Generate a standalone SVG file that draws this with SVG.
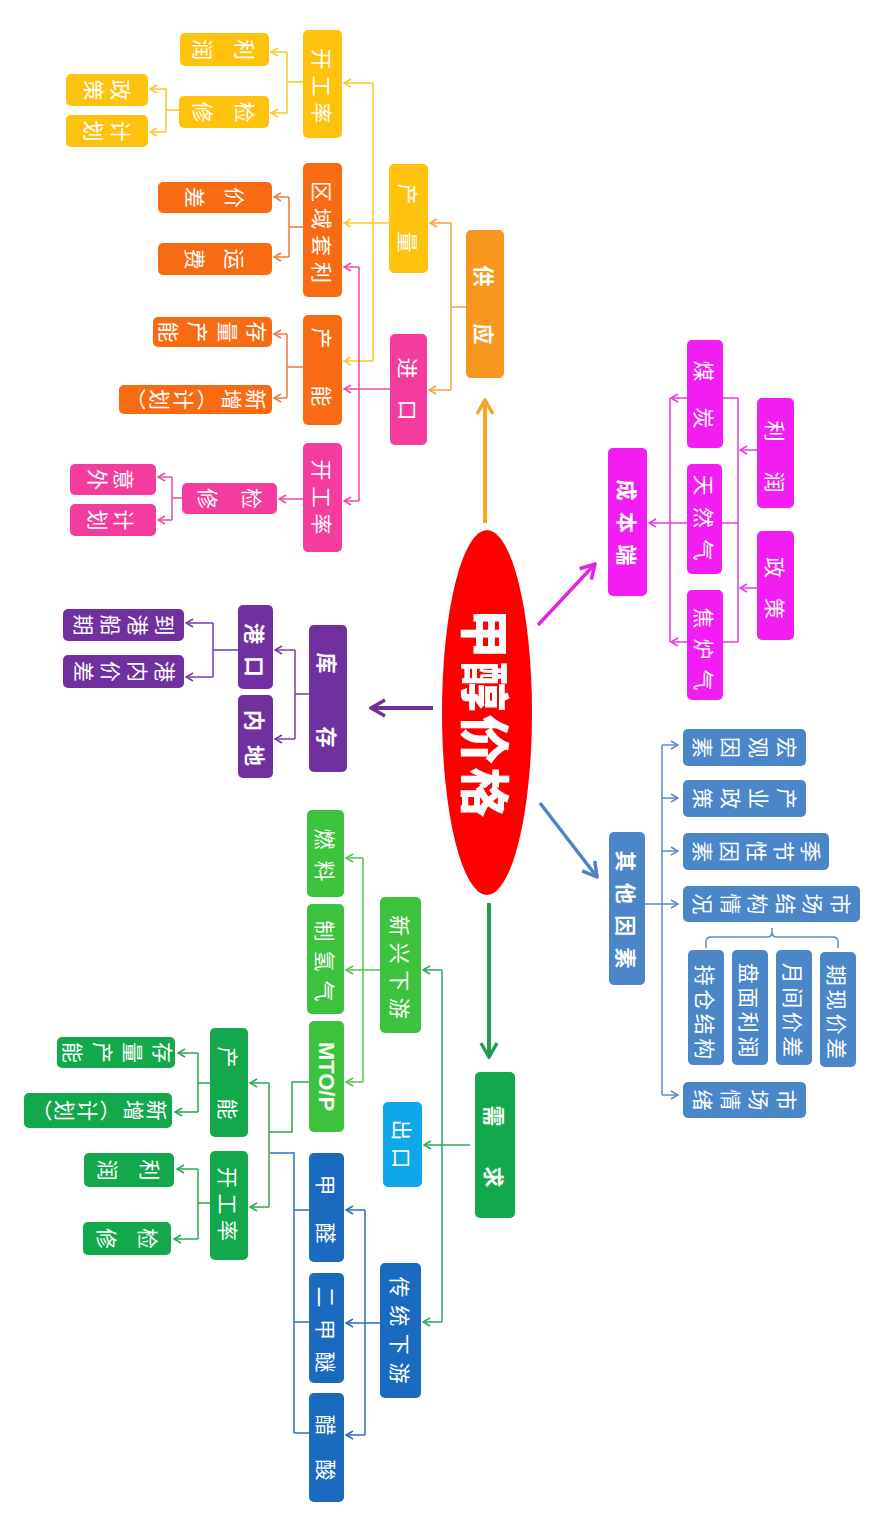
<svg xmlns="http://www.w3.org/2000/svg" width="882" height="1530" viewBox="0 0 882 1530">
<defs>
<style>
.t{font-family:"Noto Sans CJK SC","Noto Sans CJK JP",sans-serif;font-size:21px;fill:#fff;dominant-baseline:central;text-anchor:start}
.v{writing-mode:vertical-rl}
.b{font-weight:bold}
.c{fill:none;stroke-width:1.5}
.k{fill:none;stroke-width:1.6}
.big{fill:none;stroke-width:3.5}
.cy{stroke:#F8C82A}.ca{stroke:#F4A33A}.co{stroke:#EE7A3C}.cp{stroke:#EC4AA3}.cu{stroke:#7A3BA8}.cm{stroke:#E23CE2}.cb{stroke:#5B8BC9}.cgl{stroke:#55C055}.cg{stroke:#2BA85A}.cgd{stroke:#2EA652}.cdb{stroke:#2F6DBA}
</style>
<marker id="ay" viewBox="0 0 10 10" refX="9" refY="5" markerWidth="10" markerHeight="10" markerUnits="userSpaceOnUse" orient="auto"><path class="k" d="M2,1 L9,5 L2,9" stroke="#F8C82A"/></marker>
<marker id="aa" viewBox="0 0 10 10" refX="9" refY="5" markerWidth="10" markerHeight="10" markerUnits="userSpaceOnUse" orient="auto"><path class="k" d="M2,1 L9,5 L2,9" stroke="#F4A33A"/></marker>
<marker id="ao" viewBox="0 0 10 10" refX="9" refY="5" markerWidth="10" markerHeight="10" markerUnits="userSpaceOnUse" orient="auto"><path class="k" d="M2,1 L9,5 L2,9" stroke="#EE7A3C"/></marker>
<marker id="ap" viewBox="0 0 10 10" refX="9" refY="5" markerWidth="10" markerHeight="10" markerUnits="userSpaceOnUse" orient="auto"><path class="k" d="M2,1 L9,5 L2,9" stroke="#EC4AA3"/></marker>
<marker id="au" viewBox="0 0 10 10" refX="9" refY="5" markerWidth="10" markerHeight="10" markerUnits="userSpaceOnUse" orient="auto"><path class="k" d="M2,1 L9,5 L2,9" stroke="#7A3BA8"/></marker>
<marker id="am" viewBox="0 0 10 10" refX="9" refY="5" markerWidth="10" markerHeight="10" markerUnits="userSpaceOnUse" orient="auto"><path class="k" d="M2,1 L9,5 L2,9" stroke="#E23CE2"/></marker>
<marker id="ab" viewBox="0 0 10 10" refX="9" refY="5" markerWidth="10" markerHeight="10" markerUnits="userSpaceOnUse" orient="auto"><path class="k" d="M2,1 L9,5 L2,9" stroke="#5B8BC9"/></marker>
<marker id="agl" viewBox="0 0 10 10" refX="9" refY="5" markerWidth="10" markerHeight="10" markerUnits="userSpaceOnUse" orient="auto"><path class="k" d="M2,1 L9,5 L2,9" stroke="#55C055"/></marker>
<marker id="ag" viewBox="0 0 10 10" refX="9" refY="5" markerWidth="10" markerHeight="10" markerUnits="userSpaceOnUse" orient="auto"><path class="k" d="M2,1 L9,5 L2,9" stroke="#2BA85A"/></marker>
<marker id="agd" viewBox="0 0 10 10" refX="9" refY="5" markerWidth="10" markerHeight="10" markerUnits="userSpaceOnUse" orient="auto"><path class="k" d="M2,1 L9,5 L2,9" stroke="#2EA652"/></marker>
<marker id="adb" viewBox="0 0 10 10" refX="9" refY="5" markerWidth="10" markerHeight="10" markerUnits="userSpaceOnUse" orient="auto"><path class="k" d="M2,1 L9,5 L2,9" stroke="#2F6DBA"/></marker>
<marker id="Ba" viewBox="0 0 20 20" refX="18" refY="10" markerWidth="20" markerHeight="20" markerUnits="userSpaceOnUse" orient="auto"><path class="big" d="M4,2 L18,10 L4,18" stroke="#F5A52A"/></marker>
<marker id="Bu" viewBox="0 0 20 20" refX="18" refY="10" markerWidth="20" markerHeight="20" markerUnits="userSpaceOnUse" orient="auto"><path class="big" d="M4,2 L18,10 L4,18" stroke="#6E2E9C"/></marker>
<marker id="Bm" viewBox="0 0 20 20" refX="18" refY="10" markerWidth="20" markerHeight="20" markerUnits="userSpaceOnUse" orient="auto"><path class="big" d="M4,2 L18,10 L4,18" stroke="#E424E4"/></marker>
<marker id="Bb" viewBox="0 0 20 20" refX="18" refY="10" markerWidth="20" markerHeight="20" markerUnits="userSpaceOnUse" orient="auto"><path class="big" d="M4,2 L18,10 L4,18" stroke="#5183C4"/></marker>
<marker id="Bg" viewBox="0 0 20 20" refX="18" refY="10" markerWidth="20" markerHeight="20" markerUnits="userSpaceOnUse" orient="auto"><path class="big" d="M4,2 L18,10 L4,18" stroke="#1E9E4E"/></marker>
</defs>
<rect width="882" height="1530" fill="#fff"/>

<g id="connectors">
<!-- main arrows -->
<path d="M485,523 V400" stroke="#F5A52A" stroke-width="4" fill="none" marker-end="url(#Ba)"/>
<path d="M433,708 H371" stroke="#6E2E9C" stroke-width="4" fill="none" marker-end="url(#Bu)"/>
<path d="M538,625 L595,564" stroke="#E424E4" stroke-width="3.5" fill="none" marker-end="url(#Bm)"/>
<path d="M540,803 L597,877" stroke="#5183C4" stroke-width="3.5" fill="none" marker-end="url(#Bb)"/>
<path d="M489,903 V1057" stroke="#1E9E4E" stroke-width="4" fill="none" marker-end="url(#Bg)"/>
<!-- supply -->
<path class="c ca" d="M466,307 H451 M451,223 V390"/>
<path class="c ca" d="M451,223 H430" marker-end="url(#aa)"/>
<path class="c ca" d="M451,390 H429" marker-end="url(#aa)"/>
<path class="c cy" d="M389,223 H373 M373,83 V361"/>
<path class="c cy" d="M373,83 H344" marker-end="url(#ay)"/>
<path class="c cy" d="M373,223 H344" marker-end="url(#ay)"/>
<path class="c cy" d="M373,361 H344" marker-end="url(#ay)"/>
<path class="c cp" d="M390,389 H359 M359,267 V501"/>
<path class="c cp" d="M359,267 H344" marker-end="url(#ap)"/>
<path class="c cp" d="M359,389 H344" marker-end="url(#ap)"/>
<path class="c cp" d="M359,501 H344" marker-end="url(#ap)"/>
<path class="c cy" d="M303,82 H287 M287,52 V113"/>
<path class="c cy" d="M287,52 H271" marker-end="url(#ay)"/>
<path class="c cy" d="M287,113 H271" marker-end="url(#ay)"/>
<path class="c cy" d="M179,110 H166 M166,89 V132"/>
<path class="c cy" d="M166,89 H150" marker-end="url(#ay)"/>
<path class="c cy" d="M166,132 H150" marker-end="url(#ay)"/>
<path class="c co" d="M303,227 H289 M289,197 V257"/>
<path class="c co" d="M289,197 H274" marker-end="url(#ao)"/>
<path class="c co" d="M289,257 H274" marker-end="url(#ao)"/>
<path class="c co" d="M303,367 H287 M287,334 V398"/>
<path class="c co" d="M287,334 H274" marker-end="url(#ao)"/>
<path class="c co" d="M287,398 H274" marker-end="url(#ao)"/>
<path class="c cp" d="M303,499 H279" marker-end="url(#ap)"/>
<path class="c cp" d="M182,498 H172 M172,477 V520"/>
<path class="c cp" d="M172,477 H158" marker-end="url(#ap)"/>
<path class="c cp" d="M172,520 H158" marker-end="url(#ap)"/>
<!-- inventory -->
<path class="c cu" d="M309,694 H295 M295,650 V739"/>
<path class="c cu" d="M295,650 H275" marker-end="url(#au)"/>
<path class="c cu" d="M295,739 H275" marker-end="url(#au)"/>
<path class="c cu" d="M238,650 H213 M213,623 V677"/>
<path class="c cu" d="M213,623 H186" marker-end="url(#au)"/>
<path class="c cu" d="M213,677 H186" marker-end="url(#au)"/>
<!-- cost -->
<path class="c cm" d="M738,398 V642 M670,398 V642"/>
<path class="c cm" d="M738,398 H671" marker-end="url(#am)"/>
<path class="c cm" d="M738,642 H671" marker-end="url(#am)"/>
<path class="c cm" d="M738,523 H649" marker-end="url(#am)"/>
<path class="c cm" d="M757,450 H740" marker-end="url(#am)"/>
<path class="c cm" d="M757,588 H740" marker-end="url(#am)"/>
<!-- other factors -->
<path class="c cb" d="M645,904 H662 M662,745 V1095"/>
<path class="c cb" d="M662,745 H678" marker-end="url(#ab)"/>
<path class="c cb" d="M662,798 H678" marker-end="url(#ab)"/>
<path class="c cb" d="M662,851 H678" marker-end="url(#ab)"/>
<path class="c cb" d="M662,904 H678" marker-end="url(#ab)"/>
<path class="c cb" d="M662,1095 H678" marker-end="url(#ab)"/>
<path class="c cb" d="M706,948 V942 Q706,937 711,937 H767 Q772,937 772,932 V928 M772,932 Q772,937 777,937 H833 Q838,937 838,942 V948"/>
<!-- demand -->
<path class="c cgl" d="M380,970 H363 M363,858 V1082"/>
<path class="c cgl" d="M363,858 H346" marker-end="url(#agl)"/>
<path class="c cgl" d="M363,970 H346" marker-end="url(#agl)"/>
<path class="c cgl" d="M363,1082 H346" marker-end="url(#agl)"/>
<path class="c cg" d="M442,970 V1322"/>
<path class="c cg" d="M470,1145 H424" marker-end="url(#ag)"/>
<path class="c cg" d="M442,970 H423" marker-end="url(#ag)"/>
<path class="c cg" d="M442,1322 H423" marker-end="url(#ag)"/>
<path class="c cgd" d="M309,1082 H292 V1132 H269 M269,1083 V1207"/>
<path class="c cgd" d="M269,1083 H250" marker-end="url(#agd)"/>
<path class="c cgd" d="M269,1207 H250" marker-end="url(#agd)"/>
<path class="c cdb" d="M270,1153 H294 V1433 M294,1210 H309 M294,1322 H309 M294,1433 H309"/>
<path class="c cdb" d="M380,1323 H365 M365,1210 V1435"/>
<path class="c cdb" d="M365,1210 H346" marker-end="url(#adb)"/>
<path class="c cdb" d="M365,1323 H346" marker-end="url(#adb)"/>
<path class="c cdb" d="M365,1435 H346" marker-end="url(#adb)"/>
<path class="c cgd" d="M210,1083 H198 M198,1053 V1112"/>
<path class="c cgd" d="M198,1053 H178" marker-end="url(#agd)"/>
<path class="c cgd" d="M198,1112 H175" marker-end="url(#agd)"/>
<path class="c cgd" d="M210,1203 H198 M198,1169 V1239"/>
<path class="c cgd" d="M198,1169 H177" marker-end="url(#agd)"/>
<path class="c cgd" d="M198,1239 H174" marker-end="url(#agd)"/>
</g>

<g id="center"><ellipse cx="487" cy="712.5" rx="45" ry="182.5" fill="#FF0000"/><text class="t" style="font-size:50px;font-weight:900" transform="translate(488 713) rotate(90)" x="-104.5" letter-spacing="3">甲醇价格</text></g>

<!-- supply -->
<g id="gongying"><rect x="466" y="230" width="38" height="148" rx="5" fill="#F8971D"/><text class="t b" transform="translate(485 305) rotate(90)" x="-39.5" letter-spacing="37">供应</text></g>
<g id="chanliang"><rect x="389" y="164" width="39" height="109" rx="5" fill="#FEC20F"/><text class="t" transform="translate(408.5 218) rotate(90)" x="-34.5" letter-spacing="27">产量</text></g>
<g id="jinkou"><rect x="390" y="334" width="37" height="111" rx="5" fill="#F33C9D"/><text class="t" transform="translate(408.5 389) rotate(90)" x="-31.5" letter-spacing="21">进口</text></g>
<g id="kgl-y"><rect x="303" y="30" width="39" height="108" rx="5" fill="#FEC20F"/><text class="t" transform="translate(322.5 86) rotate(90)" x="-37.5" letter-spacing="6">开工率</text></g>
<g id="qytl"><rect x="303" y="163" width="39" height="134" rx="5" fill="#F96B12"/><text class="t" transform="translate(322.5 232) rotate(90)" x="-51" letter-spacing="6">区域套利</text></g>
<g id="channeng-o"><rect x="303" y="315" width="39" height="110" rx="5" fill="#F96B12"/><text class="t" transform="translate(322.5 367) rotate(90)" x="-39.5" letter-spacing="37">产能</text></g>
<g id="kgl-p"><rect x="303" y="443" width="39" height="109" rx="5" fill="#F33C9D"/><text class="t" transform="translate(322.5 497) rotate(90)" x="-37.5" letter-spacing="6">开工率</text></g>
<g id="lirun-y"><rect x="180" y="33" width="89" height="33" rx="5" fill="#FEC20F"/><text class="t v" transform="translate(224 49.5) rotate(90)" y="-31.5" letter-spacing="21">利润</text></g>
<g id="jianxiu-y"><rect x="179" y="96" width="90" height="32" rx="5" fill="#FEC20F"/><text class="t v" transform="translate(224 112) rotate(90)" y="-31.5" letter-spacing="21">检修</text></g>
<g id="zhengce-y"><rect x="66" y="74" width="82" height="32" rx="5" fill="#FEC20F"/><text class="t v" transform="translate(107 90) rotate(90)" y="-24" letter-spacing="6">政策</text></g>
<g id="jihua-y"><rect x="66" y="115" width="82" height="32" rx="5" fill="#FEC20F"/><text class="t v" transform="translate(107 131) rotate(90)" y="-24" letter-spacing="6">计划</text></g>
<g id="jiacha-o"><rect x="158" y="182" width="114" height="31" rx="5" fill="#F96B12"/><text class="t v" transform="translate(215 197.5) rotate(90)" y="-30.5" letter-spacing="19">价差</text></g>
<g id="yunfei"><rect x="158" y="243" width="114" height="32" rx="5" fill="#F96B12"/><text class="t v" transform="translate(215 259) rotate(90)" y="-30.5" letter-spacing="19">运费</text></g>
<g id="clcn-o"><rect x="153" y="317" width="119" height="30" rx="5" fill="#F96B12"/><text class="t v" transform="translate(213 332) rotate(90)" y="-54.75" letter-spacing="8.5">存量产能</text></g>
<g id="xz-o"><rect x="119" y="385" width="153" height="29" rx="5" fill="#F96B12"/><text class="t v" transform="translate(196 399.5) rotate(90)" y="-70.5" letter-spacing="3">新增（计划）</text></g>
<g id="jianxiu-p"><rect x="182" y="483" width="95" height="31" rx="5" fill="#F33C9D"/><text class="t v" transform="translate(230 498.5) rotate(90)" y="-32.5" letter-spacing="23">检修</text></g>
<g id="yiwai"><rect x="70" y="464" width="86" height="31" rx="5" fill="#F33C9D"/><text class="t v" transform="translate(111 479.5) rotate(90)" y="-23.5" letter-spacing="5">意外</text></g>
<g id="jihua-p"><rect x="70" y="504" width="86" height="32" rx="5" fill="#F33C9D"/><text class="t v" transform="translate(111 520) rotate(90)" y="-23.5" letter-spacing="5">计划</text></g>

<!-- inventory -->
<g id="kucun"><rect x="309" y="625" width="38" height="147" rx="5" fill="#7030A0"/><text class="t b" transform="translate(328 700) rotate(90)" x="-47.5" letter-spacing="53">库存</text></g>
<g id="gangkou"><rect x="238" y="605" width="35" height="84" rx="5" fill="#7030A0"/><text class="t b" transform="translate(255.5 650) rotate(90)" x="-27" letter-spacing="12">港口</text></g>
<g id="neidi"><rect x="238" y="695" width="35" height="83" rx="5" fill="#7030A0"/><text class="t b" transform="translate(255.5 738) rotate(90)" x="-28" letter-spacing="14">内地</text></g>
<g id="dgcq"><rect x="63" y="609" width="121" height="32" rx="5" fill="#7030A0"/><text class="t v" transform="translate(124 625) rotate(90)" y="-51" letter-spacing="6">到港船期</text></g>
<g id="gnjc"><rect x="63" y="655" width="121" height="33" rx="5" fill="#7030A0"/><text class="t v" transform="translate(124 671.5) rotate(90)" y="-51" letter-spacing="6">港内价差</text></g>

<!-- cost -->
<g id="chengben"><rect x="608" y="448" width="39" height="148" rx="5" fill="#F21DF2"/><text class="t b" transform="translate(627.5 522.5) rotate(90)" x="-43" letter-spacing="11.5">成本端</text></g>
<g id="meitan"><rect x="687" y="340" width="36" height="108" rx="5" fill="#F21DF2"/><text class="t" transform="translate(705 394.5) rotate(90)" x="-34" letter-spacing="26">煤炭</text></g>
<g id="trq"><rect x="687" y="464" width="35" height="110" rx="5" fill="#F21DF2"/><text class="t" transform="translate(704.5 517.5) rotate(90)" x="-43" letter-spacing="11.5">天然气</text></g>
<g id="jlq"><rect x="687" y="590" width="36" height="110" rx="5" fill="#F21DF2"/><text class="t" transform="translate(705 649) rotate(90)" x="-41.5" letter-spacing="10">焦炉气</text></g>
<g id="lirun-m"><rect x="757" y="398" width="37" height="110" rx="5" fill="#F21DF2"/><text class="t" transform="translate(775.5 456.5) rotate(90)" x="-36" letter-spacing="30">利润</text></g>
<g id="zhengce-m"><rect x="757" y="531" width="37" height="109" rx="5" fill="#F21DF2"/><text class="t" transform="translate(775.5 588) rotate(90)" x="-31" letter-spacing="20">政策</text></g>

<!-- other factors -->
<g id="qita"><rect x="609" y="832" width="36" height="153" rx="5" fill="#4A86C8"/><text class="t b" transform="translate(627 909.5) rotate(90)" x="-58.95" letter-spacing="11.3">其他因素</text></g>
<g id="hongguan"><rect x="683" y="729" width="123" height="37" rx="5" fill="#4A86C8"/><text class="t v" transform="translate(745 747.5) rotate(90)" y="-52.5" letter-spacing="7">宏观因素</text></g>
<g id="chanye"><rect x="683" y="780" width="123" height="37" rx="5" fill="#4A86C8"/><text class="t v" transform="translate(745 798.5) rotate(90)" y="-52.5" letter-spacing="7">产业政策</text></g>
<g id="jijie"><rect x="683" y="833" width="146" height="37" rx="5" fill="#4A86C8"/><text class="t v" transform="translate(757 851.5) rotate(90)" y="-64.5" letter-spacing="6">季节性因素</text></g>
<g id="scjg"><rect x="683" y="886" width="177" height="36" rx="5" fill="#4A86C8"/><text class="t v" transform="translate(772 904) rotate(90)" y="-79.5" letter-spacing="6.6">市场结构情况</text></g>
<g id="ccjg"><rect x="688" y="950" width="36" height="115" rx="5" fill="#4A86C8"/><text class="t" transform="translate(706 1012) rotate(90)" x="-47.25" letter-spacing="3.5">持仓结构</text></g>
<g id="pmlr"><rect x="732" y="950" width="36" height="115" rx="5" fill="#4A86C8"/><text class="t" transform="translate(750 1010) rotate(90)" x="-47.25" letter-spacing="3.5">盘面利润</text></g>
<g id="yjjc"><rect x="776" y="950" width="36" height="115" rx="5" fill="#4A86C8"/><text class="t" transform="translate(794 1010) rotate(90)" x="-47.25" letter-spacing="3.5">月间价差</text></g>
<g id="qxjc"><rect x="820" y="952" width="36" height="115" rx="5" fill="#4A86C8"/><text class="t" transform="translate(838 1012) rotate(90)" x="-47.25" letter-spacing="3.5">期现价差</text></g>
<g id="scqx"><rect x="683" y="1082" width="123" height="36" rx="5" fill="#4A86C8"/><text class="t v" transform="translate(745 1100) rotate(90)" y="-52.5" letter-spacing="7">市场情绪</text></g>

<!-- demand -->
<g id="xuqiu"><rect x="475" y="1072" width="40" height="146" rx="5" fill="#12A84B"/><text class="t b" transform="translate(495 1146.5) rotate(90)" x="-41" letter-spacing="40">需求</text></g>
<g id="xxxy"><rect x="380" y="897" width="41" height="136" rx="5" fill="#3CC23C"/><text class="t" transform="translate(400.5 967) rotate(90)" x="-51.75" letter-spacing="6.5">新兴下游</text></g>
<g id="chukou"><rect x="383" y="1102" width="39" height="85" rx="5" fill="#0FA7EC"/><text class="t" transform="translate(402.5 1144) rotate(90)" x="-24.5" letter-spacing="7">出口</text></g>
<g id="ctxy"><rect x="380" y="1263" width="41" height="135" rx="5" fill="#1A6AC0"/><text class="t" transform="translate(400.5 1330) rotate(90)" x="-53.55" letter-spacing="7.7">传统下游</text></g>
<g id="ranliao"><rect x="307" y="810" width="37" height="87" rx="5" fill="#3CC23C"/><text class="t" transform="translate(325.5 855) rotate(90)" x="-26.5" letter-spacing="11">燃料</text></g>
<g id="zqq"><rect x="307" y="904" width="37" height="110" rx="5" fill="#3CC23C"/><text class="t" transform="translate(325.5 961) rotate(90)" x="-40.5" letter-spacing="9">制氢气</text></g>
<g id="mto"><rect x="309" y="1021" width="35" height="111" rx="5" fill="#3CC23C"/><text class="t" style="font-family:'Liberation Sans',Arial,sans-serif;font-weight:bold;font-size:22px;text-anchor:middle" transform="translate(326.5 1076.5) rotate(90)" x="0">MTO/P</text></g>
<g id="jiaquan"><rect x="309" y="1153" width="35" height="109" rx="5" fill="#1A6AC0"/><text class="t" transform="translate(326.5 1209) rotate(90)" x="-34.5" letter-spacing="27">甲醛</text></g>
<g id="ejm"><rect x="309" y="1273" width="35" height="110" rx="5" fill="#1A6AC0"/><text class="t" transform="translate(326.5 1329.5) rotate(90)" x="-43" letter-spacing="11.5">二甲醚</text></g>
<g id="cusuan"><rect x="309" y="1393" width="35" height="109" rx="5" fill="#1A6AC0"/><text class="t" transform="translate(326.5 1447.5) rotate(90)" x="-33" letter-spacing="24">醋酸</text></g>
<g id="channeng-g"><rect x="210" y="1028" width="38" height="109" rx="5" fill="#12A84B"/><text class="t" transform="translate(229 1083) rotate(90)" x="-36.5" letter-spacing="31">产能</text></g>
<g id="kgl-g"><rect x="210" y="1151" width="38" height="109" rx="5" fill="#12A84B"/><text class="t" transform="translate(229 1204) rotate(90)" x="-37" letter-spacing="5.5">开工率</text></g>
<g id="clcn-g"><rect x="57" y="1037" width="118" height="31" rx="5" fill="#12A84B"/><text class="t v" transform="translate(118 1052.5) rotate(90)" y="-55.5" letter-spacing="9">存量产能</text></g>
<g id="xz-g"><rect x="24" y="1093" width="148" height="35" rx="5" fill="#12A84B"/><text class="t v" transform="translate(99.5 1110.5) rotate(90)" y="-68" letter-spacing="2">新增（计划）</text></g>
<g id="lirun-g"><rect x="84" y="1153" width="90" height="34" rx="5" fill="#12A84B"/><text class="t v" transform="translate(129 1170) rotate(90)" y="-31.5" letter-spacing="21">利润</text></g>
<g id="jianxiu-g"><rect x="83" y="1222" width="88" height="33" rx="5" fill="#12A84B"/><text class="t v" transform="translate(127.5 1238.5) rotate(90)" y="-31" letter-spacing="20">检修</text></g>
</svg>
